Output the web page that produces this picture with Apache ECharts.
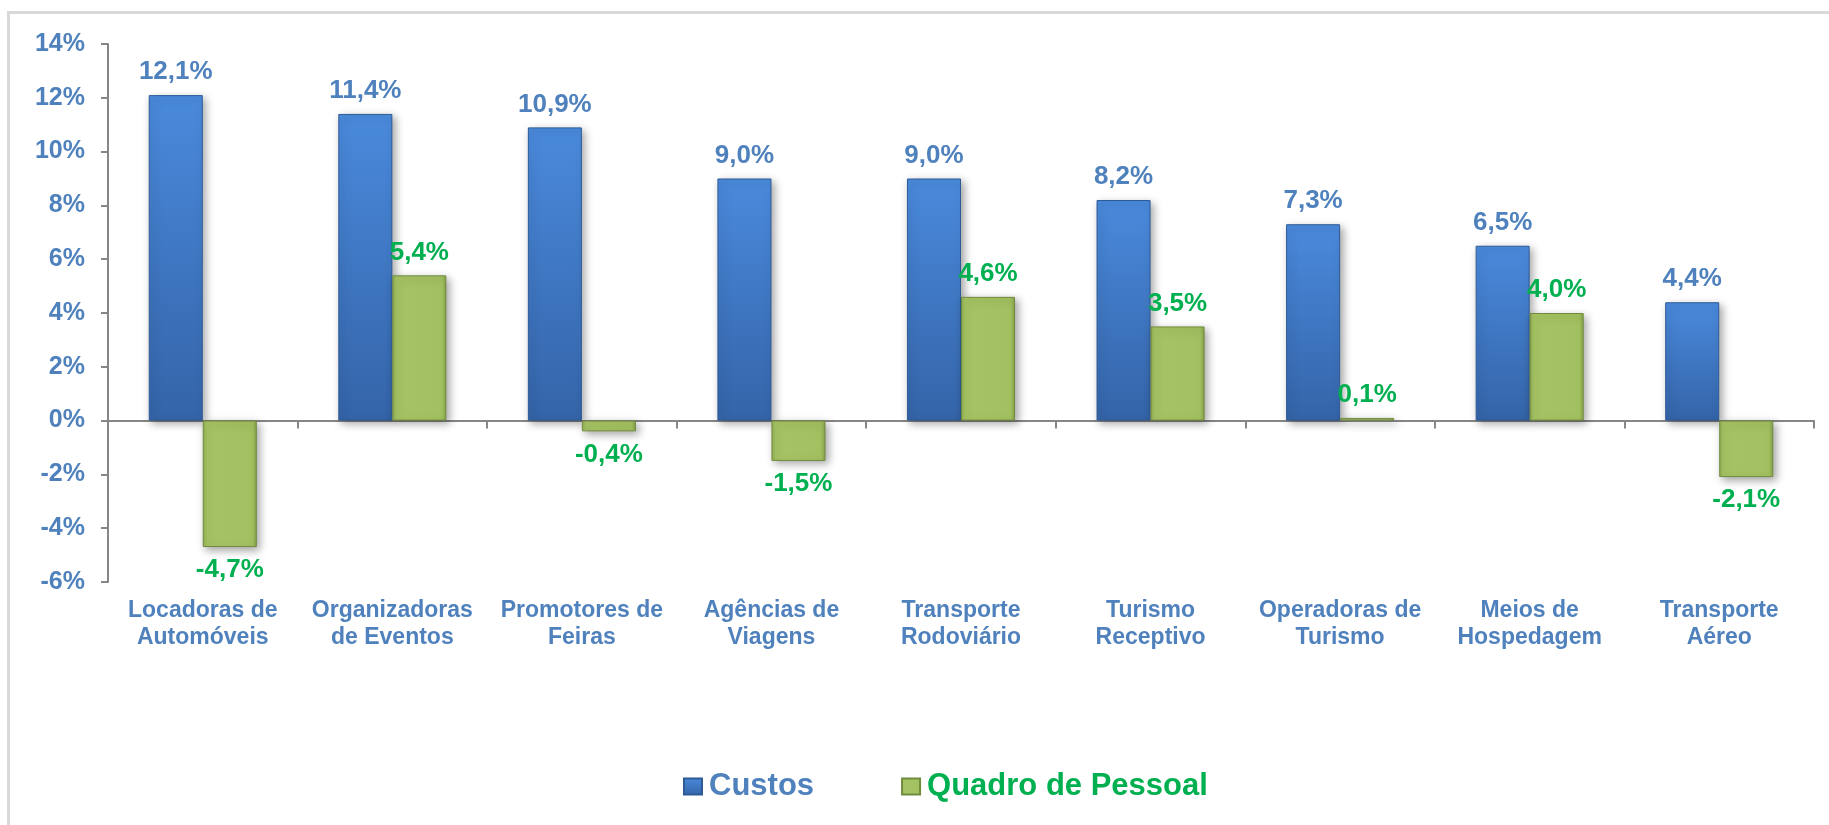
<!DOCTYPE html>
<html>
<head>
<meta charset="utf-8">
<script src="https://cdn.jsdelivr.net/npm/echarts@6/dist/echarts.min.js"></script>
<style>
  html, body { margin: 0; padding: 0; background: #fff; }
  #chart { width: 1829px; height: 825px; }
</style>
</head>
<body>
<div id="chart"></div>
<script>
const categories = [
  "Locadoras de\nAutomóveis",
  "Organizadoras\nde Eventos",
  "Promotores de\nFeiras",
  "Agências de\nViagens",
  "Transporte\nRodoviário",
  "Turismo\nReceptivo",
  "Operadoras de\nTurismo",
  "Meios de\nHospedagem",
  "Transporte\nAéreo",
];
const custos = [12.1, 11.4, 10.9, 9.0, 9.0, 8.2, 7.3, 6.5, 4.4];
const quadroPessoal = [-4.7, 5.4, -0.4, -1.5, 4.6, 3.5, 0.1, 4.0, -2.1];
const yTicks = { min: -6, max: 14, interval: 2 };

const BLUE_TEXT = "#4F81BD";
const GREEN_TEXT = "#00B050";
const AXIS_GREY = "#868686";
const FONT = "'Liberation Sans', Arial, sans-serif";

const fmt = (v) => v.toFixed(1).replace(".", ",") + "%";

const barShadow = {
  shadowColor: "rgba(0, 0, 0, 0.35)",
  shadowBlur: 8,
  shadowOffsetX: 3,
  shadowOffsetY: 3,
};

const chart = echarts.init(document.getElementById("chart"), null, { renderer: "canvas" });

chart.setOption({
  animation: false,
  backgroundColor: "#ffffff",
  graphic: [
    {
      type: "rect",
      left: 6,
      top: 10,
      shape: { width: 1900, height: 900 },
      style: { fill: "none", stroke: "#d9d9d9", lineWidth: 3 },
      silent: true,
      z: -10,
    },
  ],
  grid: { left: 108, right: 15, top: 44, bottom: 243, containLabel: false },
  legend: {
    left: 678,
    top: 766,
    icon: "rect",
    itemWidth: 18,
    itemHeight: 16,
    itemGap: 87,
    itemStyle: { shadowBlur: 0, shadowOffsetX: 0, shadowOffsetY: 0 },
    textStyle: { fontFamily: FONT, fontWeight: "bold", fontSize: 31, padding: [0, 0, 0, 2] },
    data: [
      { name: "Custos", textStyle: { color: BLUE_TEXT } },
      { name: "Quadro de Pessoal", textStyle: { color: GREEN_TEXT } },
    ],
  },
  xAxis: [
    {
      type: "category",
      data: categories,
      position: "bottom",
      axisLine: { show: false, onZero: false },
      axisTick: { show: false },
      axisLabel: {
        interval: 0,
        margin: 15,
        color: BLUE_TEXT,
        fontFamily: FONT,
        fontWeight: "bold",
        fontSize: 23,
        lineHeight: 27,
      },
    },
    {
      type: "category",
      data: categories,
      position: "bottom",
      axisLine: { show: true, onZero: true, lineStyle: { color: AXIS_GREY, width: 2 } },
      axisTick: { show: true, length: 8, lineStyle: { color: AXIS_GREY, width: 2 } },
      axisLabel: { show: false },
    },
  ],
  yAxis: {
    type: "value",
    min: yTicks.min,
    max: yTicks.max,
    interval: yTicks.interval,
    axisLine: { show: true, lineStyle: { color: AXIS_GREY, width: 2 } },
    axisTick: { show: true, length: 7, lineStyle: { color: AXIS_GREY, width: 2 } },
    splitLine: { show: false },
    axisLabel: {
      margin: 23,
      color: BLUE_TEXT,
      fontFamily: FONT,
      fontWeight: "bold",
      fontSize: 25,
      formatter: (v) => v + "%",
    },
  },
  series: [
    {
      name: "Custos",
      type: "bar",
      xAxisIndex: 0,
      barGap: "0%",
      barCategoryGap: "43%",
      data: custos,
      itemStyle: {
        color: new echarts.graphic.LinearGradient(0, 0, 0, 1, [
          { offset: 0, color: "#4A8ADC" },
          { offset: 1, color: "#3464A8" },
        ]),
        borderColor: "#2E5A96",
        borderWidth: 1,
        ...barShadow,
      },
      label: {
        show: true,
        position: "top",
        distance: 10,
        color: BLUE_TEXT,
        fontFamily: FONT,
        fontWeight: "bold",
        fontSize: 26,
        formatter: (p) => fmt(p.value),
      },
    },
    {
      name: "Quadro de Pessoal",
      type: "bar",
      xAxisIndex: 0,
      data: quadroPessoal.map((v) => ({
        value: v,
        label: { position: v < 0 ? "bottom" : "top" },
      })),
      itemStyle: {
        color: new echarts.graphic.LinearGradient(1, 0, 0, 0, [
          { offset: 0, color: "#86A34B" },
          { offset: 0.08, color: "#A2C160" },
          { offset: 0.92, color: "#A6C464" },
          { offset: 1, color: "#8FAE52" },
        ]),
        borderColor: "#718B3E",
        borderWidth: 1,
        ...barShadow,
      },
      label: {
        show: true,
        distance: 10,
        color: GREEN_TEXT,
        fontFamily: FONT,
        fontWeight: "bold",
        fontSize: 26,
        formatter: (p) => fmt(p.value),
      },
    },
  ],
});
</script>
</body>
</html>
